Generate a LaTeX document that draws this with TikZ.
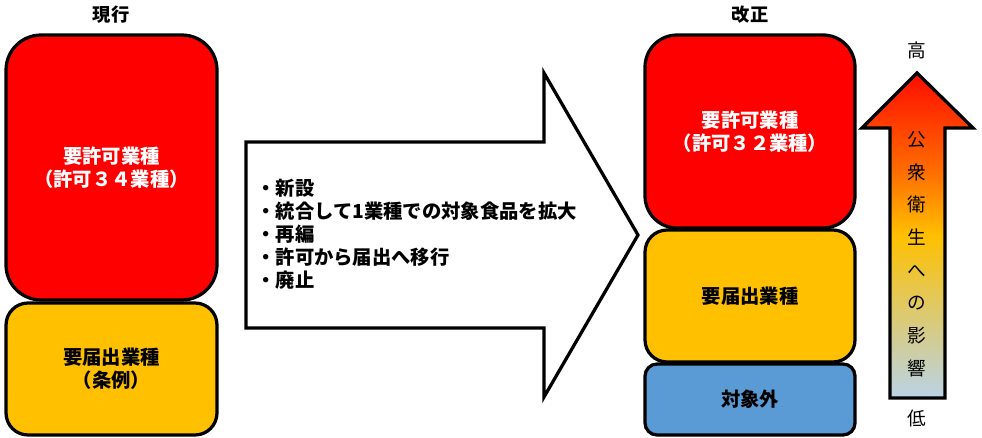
\documentclass[tikz,border=0pt]{standalone}
\usepackage{fontspec}
\setmainfont{Noto Sans CJK JP}
\usepackage{xcolor}
\definecolor{reqred}{RGB}{255,0,0}
\definecolor{notiorange}{RGB}{255,192,0}
\definecolor{outblue}{RGB}{91,155,213}
\definecolor{impblue}{RGB}{186,211,232}
\definecolor{impsand}{RGB}{226,200,92}
\definecolor{impgold}{RGB}{255,192,0}
\definecolor{imporange}{RGB}{255,108,0}
\definecolor{impred}{RGB}{255,12,0}
\pgfdeclareverticalshading{impact}{100bp}{color(0bp)=(impblue); color(25bp)=(impblue);
  color(40bp)=(impsand); color(50bp)=(impgold); color(60bp)=(imporange);
  color(75bp)=(impred); color(100bp)=(impred)}
\tikzset{
  cat/.style     = {draw=black,line width=0.065cm,align=center,inner sep=0pt,
                    font=\fontsize{11}{13.1}\selectfont\bfseries},
  reqbox/.style  = {cat,fill=reqred,text=white},
  notibox/.style = {cat,fill=notiorange},
  outbox/.style  = {cat,fill=outblue},
  head/.style    = {font=\fontsize{10.4}{12}\selectfont\bfseries,inner sep=0pt},
  lvl/.style     = {font=\fontsize{10.6}{12}\selectfont,inner sep=0pt},
  blockarrow/.style = {draw=black,line width=0.065cm,fill=white,line join=miter},
}

\begin{document}
\begin{tikzpicture}[x=0.02cm,y=-0.02cm]
  \useasboundingbox (0,0) rectangle (982,438);
  % current
  \node[head] (curHead) at (111,15) {現行};
  \node[reqbox,minimum width=4.22cm,minimum height=5.3cm,rounded corners=0.7cm]
        (curReq) at (111.5,167.5) {要許可業種\\（許可３４業種）};
  \node[notibox,minimum width=4.22cm,minimum height=2.64cm,rounded corners=0.44cm]
        (curNoti) at (111.5,369) {要届出業種\\（条例）};

  \draw[blockarrow] (246,142) -- (544,142) -- (544,73) -- (638,235)
        -- (544,397) -- (544,328) -- (246,328) -- cycle;
  \node[anchor=west,align=left,inner sep=0pt,
        font=\fontsize{11}{13.1}\selectfont\bfseries] (changes) at (256,234)
        {・新設\\・統合して1業種での対象食品を拡大\\・再編\\・許可から届出へ移行\\・廃止};

  % revised
  \node[head] (newHead) at (750,15) {改正};
  \node[reqbox,minimum width=4.2cm,minimum height=3.86cm,rounded corners=0.64cm]
        (newReq) at (750,131.5) {要許可業種\\（許可３２業種）};
  \node[notibox,minimum width=4.2cm,minimum height=2.64cm,rounded corners=0.44cm]
        (newNoti) at (750,296) {要届出業種};
  \node[outbox,minimum width=4.2cm,minimum height=1.42cm,rounded corners=0.24cm]
        (newOut) at (750,399.5) {対象外};

  \shadedraw[shading=impact,line width=0.065cm,line join=miter]
        (890,398) -- (890,128) -- (862,128) -- (917,73) -- (973,128)
        -- (945,128) -- (945,398) -- cycle;
  \node[lvl,align=center,font=\fontsize{10.6}{18.6}\selectfont] (impact) at (917,254)
        {公\\衆\\衛\\生\\へ\\の\\影\\響};
  \node[lvl] (high) at (917,50) {高};
  \node[lvl] (low) at (917,418) {低};
\end{tikzpicture}
\end{document}
